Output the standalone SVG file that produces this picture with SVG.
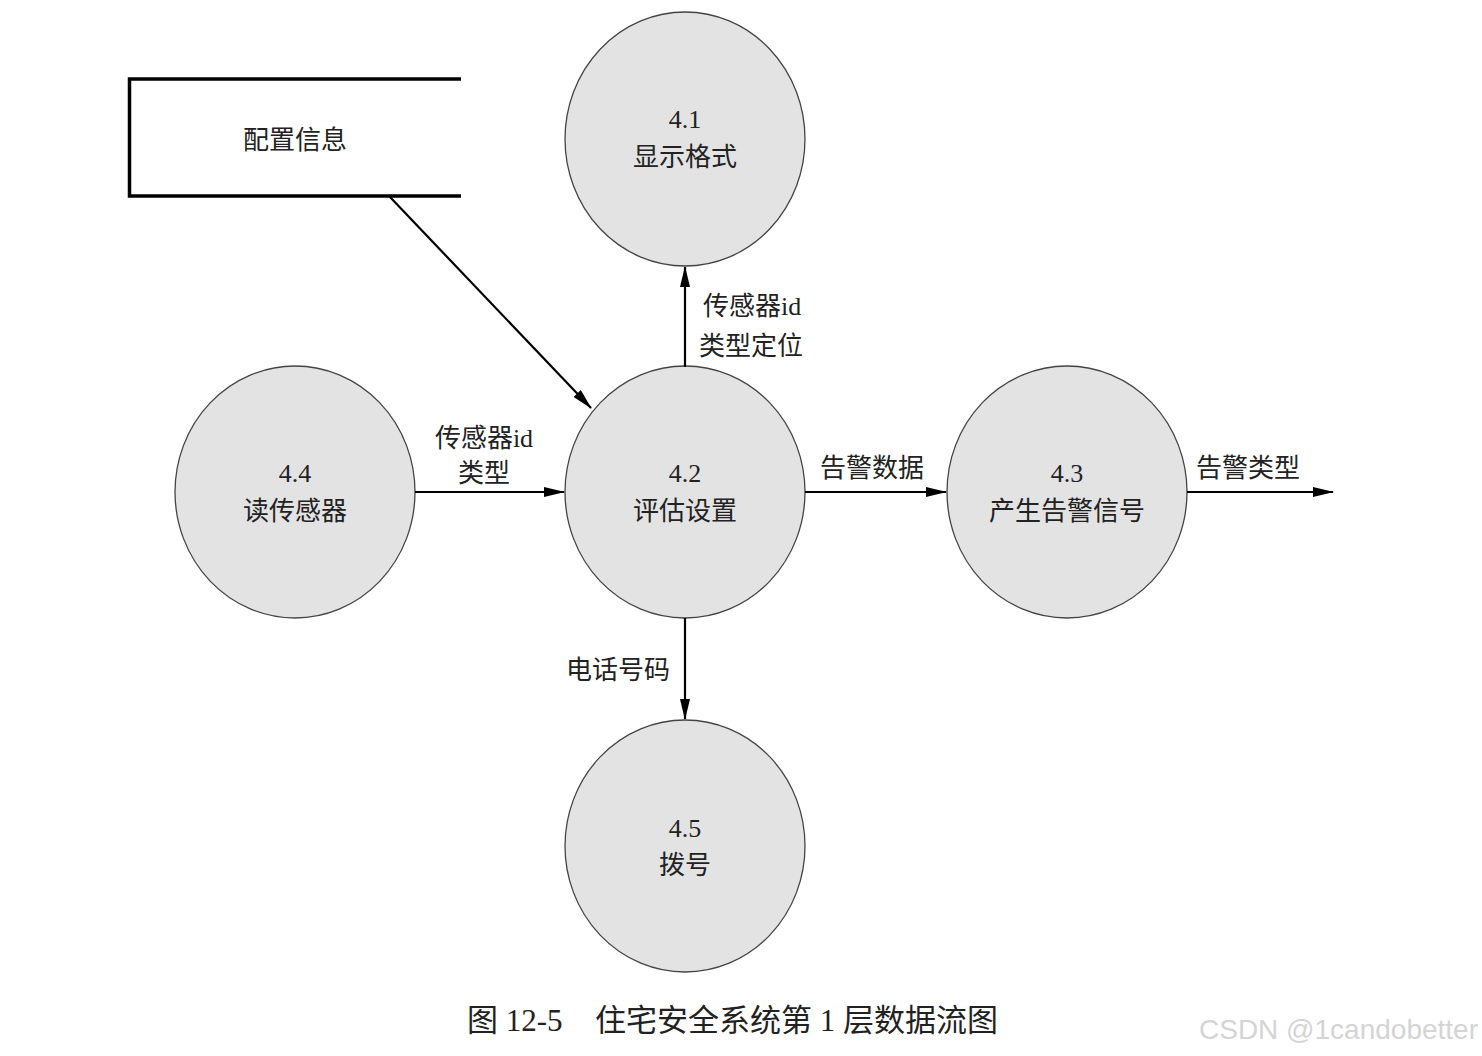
<svg xmlns="http://www.w3.org/2000/svg" width="1482" height="1056" viewBox="0 0 1482 1056">
<style>
.t{font-family:"Liberation Serif","Noto Sans CJK SC",serif;font-size:26px;fill:#222;text-anchor:middle}
.l{font-family:"Liberation Serif","Noto Sans CJK SC",serif;font-size:26px;fill:#222}
.n{fill:#e3e3e3;stroke:#444;stroke-width:1.3}
.c{stroke:#000;stroke-width:2.2;fill:none;marker-end:url(#ah)}
</style>
<defs>
<marker id="ah" markerWidth="22" markerHeight="10" refX="20" refY="5" orient="auto" markerUnits="userSpaceOnUse">
<path d="M0,0 L21,5 L0,10 Z" fill="#000"/>
</marker>
</defs>
<rect width="1482" height="1056" fill="#fff"/>
<g id="store">
<path d="M461,79 H129.5 V196 H461" fill="none" stroke="#000" stroke-width="3.5"/>
<text class="t" x="295" y="149">配置信息</text>
</g>
<g id="n41">
<ellipse class="n" cx="685" cy="139" rx="120" ry="127"/>
<text class="t" x="685" y="128">4.1</text>
<text class="t" x="685" y="166">显示格式</text>
</g>
<g id="n42">
<ellipse class="n" cx="685" cy="492" rx="120" ry="126"/>
<text class="t" x="685" y="482">4.2</text>
<text class="t" x="685" y="520">评估设置</text>
</g>
<g id="n44">
<ellipse class="n" cx="295" cy="492" rx="120" ry="126"/>
<text class="t" x="295" y="482">4.4</text>
<text class="t" x="295" y="520">读传感器</text>
</g>
<g id="n43">
<ellipse class="n" cx="1067" cy="492" rx="120" ry="126"/>
<text class="t" x="1067" y="482">4.3</text>
<text class="t" x="1067" y="520">产生告警信号</text>
</g>
<g id="n45">
<ellipse class="n" cx="685" cy="846" rx="120" ry="126"/>
<text class="t" x="685" y="837">4.5</text>
<text class="t" x="685" y="874">拨号</text>
</g>
<g id="connectors">
<line class="c" x1="390" y1="197" x2="591" y2="408"/>
<line class="c" x1="685" y1="367" x2="685" y2="267"/>
<line class="c" x1="415" y1="492" x2="564" y2="492"/>
<line class="c" x1="805" y1="492" x2="946" y2="492"/>
<line class="c" x1="1187" y1="492" x2="1333" y2="492"/>
<line class="c" x1="685" y1="618" x2="685" y2="719"/>
<text class="l" x="703" y="315">传感器id</text>
<text class="l" x="699" y="355">类型定位</text>
<text class="l" x="484" y="447" text-anchor="middle">传感器id</text>
<text class="l" x="484" y="482" text-anchor="middle">类型</text>
<text class="l" x="820" y="477">告警数据</text>
<text class="l" x="1196" y="477">告警类型</text>
<text class="l" x="566" y="679">电话号码</text>
</g>
<text x="467" y="1031" style="font-family:'Liberation Serif','Noto Sans CJK SC',serif;font-size:31px;fill:#222">图 12-5<tspan x="595">住宅安全系统第 1 层数据流图</tspan></text>
<text x="1478" y="1039" text-anchor="end" style="font-family:'Liberation Sans',sans-serif;font-size:28px;fill:#d4d4d4">CSDN @1candobetter</text>
</svg>
